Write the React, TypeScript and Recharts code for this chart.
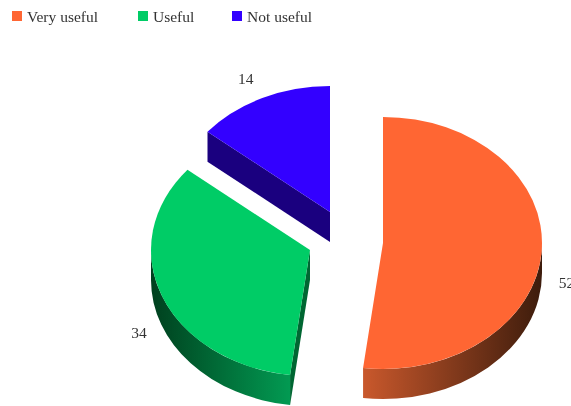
import { PieChart, Pie, Legend } from 'recharts';

const categories = ['Very useful', 'Useful', 'Not useful'];
const values = [52, 34, 14];
const colors = ['#ff6633', '#00cc66', '#3300ff'];

// side wall shading, left to right
const wallLeft = ['#c9582c', '#00401e', '#1a007f'];
const wallRight = ['#3d1c0c', '#029a52', '#1a007f'];
const faceColors = ['#a04a26', '#006632', '#1a007f'];

// exploded slices, px from the pie centre
const offsets = [[0, 0], [-73, 7], [-53, -31]];
const labelNudge = [[0, 0], [0, -1], [-6, -32]];

const RX = 159;
const SQUASH = 126 / 159;
const DEPTH = 30;

const data = categories.map((name, i) => ({ name, value: values[i], fill: colors[i] }));

const legendX = [12, 138, 232];

function rim(cx: number, cy: number, t: number) {
  const a = (t * Math.PI) / 180;
  return [cx + RX * Math.sin(a), cy - RX * SQUASH * Math.cos(a)];
}

function Slice(props: any) {
  const i = categories.indexOf(props.name);
  const cx = props.cx + offsets[i][0];
  const cy = props.cy + offsets[i][1];
  // clockwise from 12 o'clock
  const t0 = 90 - props.startAngle;
  const t1 = 90 - props.endAngle;
  const ry = RX * SQUASH;
  const [sx, sy] = rim(cx, cy, t0);
  const [ex, ey] = rim(cx, cy, t1);
  const large = t1 - t0 > 180 ? 1 : 0;
  const top = `M${cx},${cy} L${sx},${sy} A${RX},${ry} 0 ${large} 1 ${ex},${ey} Z`;

  const w0 = Math.max(t0, 90);
  const w1 = Math.min(t1, 270);
  let wall = null;
  if (w1 > w0) {
    const [ax, ay] = rim(cx, cy, w0);
    const [bx, by] = rim(cx, cy, w1);
    const d = `M${ax},${ay} A${RX},${ry} 0 0 1 ${bx},${by} L${bx},${by + DEPTH} A${RX},${ry} 0 0 0 ${ax},${ay + DEPTH} Z`;
    wall = (
      <>
        <linearGradient id={`wall${i}`} gradientUnits="userSpaceOnUse" x1={Math.min(ax, bx)} x2={Math.max(ax, bx)} y1={0} y2={0}>
          <stop offset="0%" stopColor={wallLeft[i]} />
          <stop offset="100%" stopColor={wallRight[i]} />
        </linearGradient>
        <path d={d} fill={`url(#wall${i})`} />
      </>
    );
  }
  const showFace = Math.sin((t0 * Math.PI) / 180) < -0.01;
  return (
    <g>
      {showFace && (
        <path
          d={`M${cx},${cy} L${sx},${sy} L${sx},${sy + DEPTH} L${cx},${cy + DEPTH} Z`}
          fill={faceColors[i]}
        />
      )}
      {wall}
      <path d={top} fill={colors[i]} />
    </g>
  );
}

function SliceLabel(props: any) {
  const i = props.index;
  const a = (props.midAngle * Math.PI) / 180;
  const k = 1.157;
  const x = props.cx + offsets[i][0] + RX * k * Math.cos(a) + labelNudge[i][0];
  const y = props.cy + offsets[i][1] - RX * SQUASH * k * Math.sin(a) + DEPTH + labelNudge[i][1];
  return (
    <text x={x} y={y} textAnchor="middle" dominantBaseline="central" fontFamily="'Liberation Serif', serif" fontSize={15.5} fill="#333">
      {values[i]}
    </text>
  );
}

function LegendRow() {
  return (
    <svg width={340} height={30} style={{ display: 'block' }}>
      {categories.map((name, i) => (
        <g key={name}>
          <rect x={legendX[i]} y={11} width={10} height={10} fill={colors[i]} />
          <text x={legendX[i] + 15} y={22} fontFamily="'Liberation Serif', serif" fontSize={15.5} fill="#333">
            {name}
          </text>
        </g>
      ))}
    </svg>
  );
}

export default function App() {
  return (
    <div style={{ position: 'absolute', left: 0, top: 0, width: 571, height: 406, overflow: 'hidden', filter: 'blur(0.5px)' }}>
      <PieChart width={571} height={406} margin={{ top: 0, right: 0, bottom: 0, left: 0 }}>
        <Legend
          content={LegendRow}
          layout="horizontal"
          align="left"
          verticalAlign="top"
          wrapperStyle={{ left: 0, top: 0, width: 340 }}
        />
        <Pie
          data={data}
          dataKey="value"
          nameKey="name"
          cx={383}
          cy={213}
          outerRadius={RX}
          startAngle={90}
          endAngle={-270}
          paddingAngle={0}
          stroke="none"
          shape={Slice}
          label={SliceLabel}
          labelLine={false}
          isAnimationActive={false}
        />
      </PieChart>
    </div>
  );
}
